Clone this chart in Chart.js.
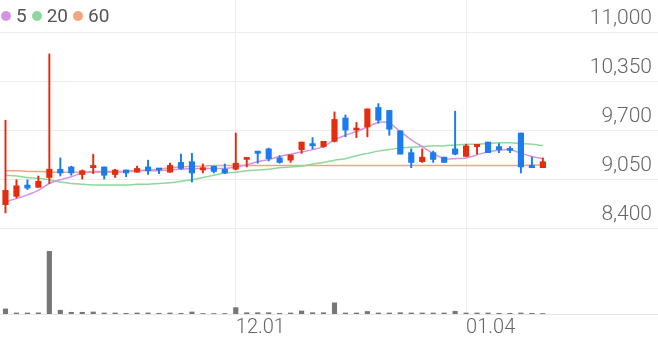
<!DOCTYPE html>
<html>
<head>
<meta charset="utf-8">
<script src="https://cdn.jsdelivr.net/npm/chart.js@4.4.1/dist/chart.umd.min.js"></script>
<style>
  html, body { margin: 0; padding: 0; background: #fff; }
  #wrap { position: relative; width: 658px; height: 342px; overflow: hidden; }
  #priceBox { position: absolute; left: 0; top: 0; width: 658px; height: 232px; }
  #volBox { position: absolute; left: 0; top: 232px; width: 658px; height: 110px; }
  #legend { position: absolute; left: 1px; top: 5px; font: 19px/22px Roboto, sans-serif; color: #555; display: flex; align-items: center; }
  #legend .item { display: flex; align-items: center; margin-right: 5px; }
  #legend .dot { width: 10px; height: 10px; border-radius: 50%; margin-right: 5px; }
</style>
</head>
<body>
<div id="wrap">
  <div id="priceBox"><canvas id="priceChart"></canvas></div>
  <div id="volBox"><canvas id="volumeChart"></canvas></div>
  <div id="legend"></div>
</div>
<script>
// trading days (last 10 are empty future slots)
const dates = [
  '11.02','11.03','11.04','11.05','11.06','11.09','11.10','11.11','11.12','11.13',
  '11.16','11.17','11.18','11.19','11.20','11.23','11.24','11.25','11.26','11.27',
  '11.30','12.01','12.02','12.03','12.04','12.07','12.08','12.09','12.10','12.11',
  '12.14','12.15','12.16','12.17','12.18','12.21','12.22','12.23','12.24','12.28',
  '12.29','12.30','01.04','01.05','01.06','01.07','01.08','01.11','01.12','01.13',
  '01.14','01.15','01.18','01.19','01.20','01.21','01.22','01.25','01.26','01.27'
];
const tickLabels = ['12.01', '01.04'];
const priceTicks = [8400, 9050, 9700, 10350, 11000];

const opens = [8710, 8820, 8970, 8940, 9070, 9180, 9210, 9110, 9200, 9210, 9110, 9170, 9140, 9210, 9190, 9140, 9270, 9280, 9170, 9220, 9180, 9180, 9310, 9420, 9450, 9330, 9300, 9440, 9520, 9480, 9550, 9860, 9700, 9740, 10000, 9960, 9690, 9400, 9280, 9400, 9340, 9450, 9350, 9480, 9540, 9480, 9450, 9660, 9230, 9200];
const highs = [9830, 9040, 9040, 9090, 10710, 9330, 9220, 9170, 9380, 9210, 9180, 9170, 9220, 9300, 9190, 9260, 9380, 9390, 9250, 9220, 9250, 9660, 9330, 9420, 9460, 9360, 9370, 9540, 9600, 9550, 9940, 9900, 9800, 9980, 10050, 9960, 9690, 9450, 9450, 9420, 9340, 9950, 9510, 9510, 9540, 9520, 9480, 9660, 9340, 9330];
const lows = [8600, 8800, 8910, 8940, 8990, 9090, 9100, 9050, 9120, 9050, 9070, 9080, 9140, 9110, 9120, 9140, 9180, 9010, 9130, 9130, 9120, 9170, 9210, 9260, 9290, 9260, 9270, 9390, 9450, 9470, 9540, 9610, 9600, 9610, 9790, 9630, 9380, 9200, 9270, 9270, 9270, 9370, 9350, 9380, 9400, 9400, 9400, 9130, 9200, 9200];
const closes = [8900, 8960, 8930, 9020, 9180, 9130, 9130, 9160, 9230, 9100, 9170, 9130, 9190, 9160, 9170, 9230, 9190, 9130, 9200, 9150, 9130, 9260, 9330, 9390, 9320, 9270, 9370, 9540, 9490, 9550, 9840, 9700, 9720, 9980, 9830, 9710, 9380, 9270, 9340, 9310, 9270, 9380, 9490, 9510, 9400, 9440, 9430, 9210, 9200, 9280];

const ma5 = [8750, 8790, 8840, 8900, 8990, 9040, 9080, 9130, 9150, 9150, 9150, 9150, 9160, 9160, 9160, 9170, 9180, 9190, 9190, 9190, 9190, 9210, 9240, 9280, 9310, 9350, 9380, 9410, 9440, 9480, 9570, 9630, 9680, 9740, 9800, 9790, 9680, 9570, 9480, 9390, 9320, 9320, 9330, 9370, 9410, 9430, 9440, 9390, 9350, 9320];
const ma20 = [9100, 9090, 9070, 9060, 9040, 9010, 8990, 8980, 8970, 8970, 8970, 8970, 8980, 8980, 8990, 9000, 9020, 9040, 9070, 9100, 9130, 9140, 9160, 9170, 9180, 9200, 9210, 9220, 9250, 9270, 9300, 9320, 9360, 9390, 9420, 9440, 9460, 9470, 9480, 9490, 9490, 9500, 9510, 9510, 9520, 9530, 9530, 9520, 9510, 9490];
const ma60 = [9160, 9160, 9150, 9150, 9140, 9140, 9140, 9140, 9140, 9140, 9140, 9150, 9160, 9170, 9180, 9200, 9210, 9220, 9220, 9230, 9230, 9230, 9230, 9230, 9230, 9230, 9230, 9230, 9230, 9230, 9230, 9230, 9230, 9230, 9230, 9230, 9230, 9230, 9230, 9230, 9230, 9230, 9230, 9230, 9230, 9230, 9230, 9230, 9235, 9240];

const volumes = [24800, 5000, 5000, 5500, 305800, 18300, 8400, 8400, 9900, 5000, 5000, 3500, 5000, 5200, 3500, 5000, 3500, 9900, 2500, 2500, 2500, 31200, 6400, 6400, 6400, 3500, 5000, 14900, 6400, 6400, 54500, 5000, 5000, 12400, 5000, 5000, 6400, 5000, 5000, 5000, 5000, 13400, 5000, 5000, 5000, 3500, 3500, 5000, 3500, 2500];

const maLabels = ['5', '20', '60'];
const maColors = ['#d792e6', '#8ed89c', '#f6a47f'];
const upColor = '#e42d0e';
const downColor = '#1a7cef';
const gridColor = '#ececec';

Chart.defaults.font.family = 'Roboto, sans-serif';
Chart.defaults.animation = false;

// legend
const legendEl = document.getElementById('legend');
maLabels.forEach((label, i) => {
    const item = document.createElement('span');
    item.className = 'item';
    item.innerHTML = '<span class="dot" style="background:' + maColors[i] + '"></span>' + label;
    legendEl.appendChild(item);
});

const candleColors = opens.map((o, i) => closes[i] >= o ? upColor : downColor);

function monthGrid(ctx) {
    const label = dates[ctx.index];
    return tickLabels.includes(label) ? gridColor : 'rgba(0,0,0,0)';
}

// keep the price axis from eating chart space (labels sit inside)
function noAxisSpace(scale) {
    scale.width = 0;
    scale.paddingTop = 0;
    scale.paddingBottom = 0;
}

const priceChart = new Chart(document.getElementById('priceChart').getContext('2d'), {
    type: 'bar',
    data: {
        labels: dates,
        datasets: [
            {
                label: 'body',
                data: opens.map((o, i) => [o, closes[i]]),
                backgroundColor: candleColors,
                barThickness: 5.5,
                minBarLength: 2,
                grouped: false,
                order: 0
            },
            {
                label: 'wick',
                data: lows.map((l, i) => [l, highs[i]]),
                backgroundColor: candleColors,
                barThickness: 1.3,
                grouped: false,
                order: 1
            },
            {
                type: 'line',
                label: maLabels[0],
                data: ma5,
                borderColor: maColors[0],
                borderWidth: 1.5,
                pointRadius: 0,
                tension: 0.3,
                order: 2
            },
            {
                type: 'line',
                label: maLabels[1],
                data: ma20,
                borderColor: maColors[1],
                borderWidth: 1.5,
                pointRadius: 0,
                tension: 0.3,
                order: 3
            },
            {
                type: 'line',
                label: maLabels[2],
                data: ma60,
                borderColor: maColors[2],
                borderWidth: 1.5,
                pointRadius: 0,
                tension: 0.3,
                order: 4
            }
        ]
    },
    options: {
        responsive: true,
        maintainAspectRatio: false,
        layout: { padding: 0, autoPadding: false },
        plugins: { legend: { display: false }, tooltip: { enabled: false } },
        scales: {
            x: {
                offset: true,
                ticks: { display: false, autoSkip: false },
                grid: { offset: false, drawTicks: false, color: monthGrid },
                border: { display: false }
            },
            y: {
                position: 'right',
                min: 8347,
                max: 11425,
                afterBuildTicks: axis => { axis.ticks = priceTicks.map(v => ({ value: v })); },
                afterFit: noAxisSpace,
                ticks: {
                    mirror: true,
                    padding: -6,
                    labelOffset: -13,
                    color: '#666',
                    font: { size: 21, weight: '300' },
                    callback: v => v.toLocaleString('en-US')
                },
                grid: { drawTicks: false, color: gridColor },
                border: { display: false }
            }
        }
    }
});

const volumeChart = new Chart(document.getElementById('volumeChart').getContext('2d'), {
    type: 'bar',
    data: {
        labels: dates,
        datasets: [{
            label: 'volume',
            data: volumes,
            backgroundColor: '#777',
            barThickness: 4.5
        }]
    },
    options: {
        responsive: true,
        maintainAspectRatio: false,
        layout: { padding: 0, autoPadding: false },
        plugins: { legend: { display: false }, tooltip: { enabled: false } },
        scales: {
            x: {
                offset: true,
                ticks: {
                    autoSkip: false,
                    maxRotation: 0,
                    align: 'start',
                    padding: 2,
                    color: '#666',
                    font: { size: 20, weight: '300' },
                    callback: function(value, index) {
                        const label = dates[index];
                        return tickLabels.includes(label) ? label : '';
                    }
                },
                grid: { offset: false, drawTicks: false, color: monthGrid },
                border: { display: true, color: '#e6e6e6' }
            },
            y: {
                display: false,
                min: 0,
                max: 400000
            }
        }
    }
});
</script>
</body>
</html>
